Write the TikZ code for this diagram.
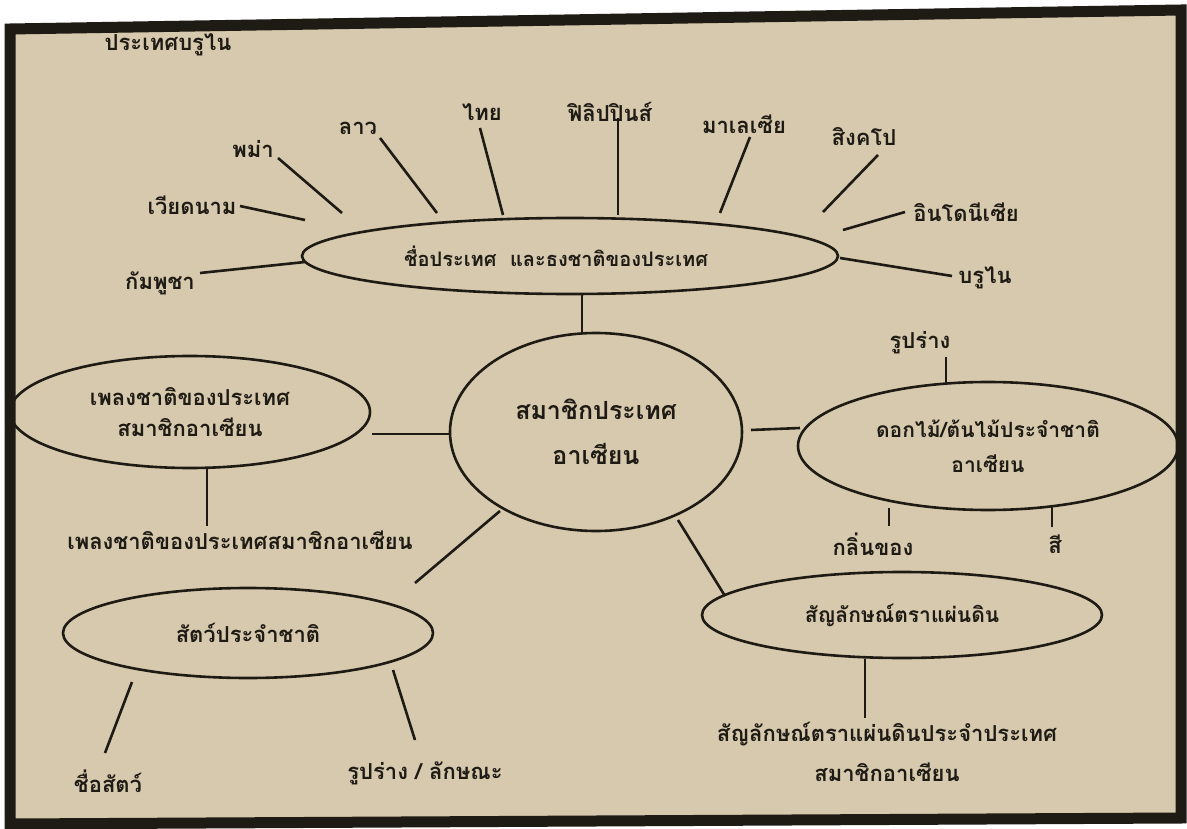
\documentclass[tikz,border=0pt]{standalone}
\usepackage{fontspec}
\newfontfamily\thai[Script=Thai]{Loma}
\usetikzlibrary{shapes.geometric}
\definecolor{paper}{HTML}{D6C9AD}
\definecolor{ink}{HTML}{1E1A14}
\begin{document}
\begin{tikzpicture}[x=1pt,y=-1pt,
  oval/.style={ellipse, draw=ink, line width=2.6pt, inner sep=0pt, align=center,
    font=\thai\bfseries\fontsize{22}{32}\selectfont, text=ink},
  lbl/.style={inner sep=0pt, align=center, font=\thai\bfseries\fontsize{22}{40}\selectfont, text=ink},
  link/.style={draw=ink, line width=2.6pt}]
\useasboundingbox (0,0) rectangle (1187,829);
\fill[white] (0,0) rectangle (1187,829);
% paper and frame
\fill[paper] (10,29) -- (1181,10) -- (1181,818) -- (10,824) -- cycle;
\draw[ink, line width=11pt] (10,29) -- (1181,10) -- (1181,818) -- (10,824) -- cycle;

% main ellipses
\node[oval, minimum width=536, minimum height=76, font=\thai\bfseries\fontsize{20}{30}\selectfont] (flag) at (570,256) {ชื่อประเทศ \ และธงชาติของประเทศ\hspace*{28pt}};
\node[oval, minimum width=292, minimum height=198, font=\thai\bfseries\fontsize{25}{45}\selectfont] (main) at (596,432) {สมาชิกประเทศ\\อาเซียน};
\node[oval, minimum width=360, minimum height=112, font=\thai\bfseries\fontsize{22}{31}\selectfont] (song) at (190,412) {เพลงชาติของประเทศ\\สมาชิกอาเซียน};
\node[oval, minimum width=380, minimum height=128, font=\thai\bfseries\fontsize{21}{35}\selectfont] (flower) at (988,446) {ดอกไม้/ต้นไม้ประจำชาติ\\อาเซียน};
\node[oval, minimum width=370, minimum height=90] (animal) at (248,633) {สัตว์ประจำชาติ};
\node[oval, minimum width=400, minimum height=86, font=\thai\bfseries\fontsize{21}{30}\selectfont] (emblem) at (902,615) {สัญลักษณ์ตราแผ่นดิน};

% hub connectors
\coordinate (f1) at (582,294); \coordinate (m1) at (582,333);
\draw[link] (f1) -- (m1);
\coordinate (s1) at (372,434); \coordinate (m2) at (451,434);
\draw[link] (s1) -- (m2);
\coordinate (m3) at (751,430); \coordinate (fl1) at (800,428);
\draw[link] (m3) -- (fl1);
\coordinate (m4) at (500,511); \coordinate (a1) at (415,583);
\draw[link] (m4) -- (a1);
\coordinate (m5) at (678,520); \coordinate (e1) at (725,596);
\draw[link] (m5) -- (e1);

% top labels
\node[lbl] (brunei0) at (168,45) {ประเทศบรูไน};
\node[lbl] (vn) at (192,205) {เวียดนาม};
\node[lbl] (mm) at (253,149) {พม่า};
\node[lbl] (la) at (358,128) {ลาว};
\node[lbl] (th) at (482,112) {ไทย};
\node[lbl] (ph) at (610,112) {ฟิลิปปินส์};
\node[lbl] (my) at (744,124) {มาเลเซีย};
\node[lbl] (sg) at (864,137) {สิงคโป};
\node[lbl] (id) at (966,212) {อินโดนีเซีย};
\node[lbl] (bn) at (985,278) {บรูไน};
\node[lbl] (kh) at (160,283) {กัมพูชา};

\coordinate (vn1) at (240,206); \coordinate (vn2) at (305,220);
\draw[link] (vn1) -- (vn2);
\coordinate (mm1) at (278,158); \coordinate (mm2) at (342,213);
\draw[link] (mm1) -- (mm2);
\coordinate (la1) at (380,138); \coordinate (la2) at (437,213);
\draw[link] (la1) -- (la2);
\coordinate (th1) at (480,128); \coordinate (th2) at (503,215);
\draw[link] (th1) -- (th2);
\coordinate (ph1) at (618,118); \coordinate (ph2) at (618,215);
\draw[link] (ph1) -- (ph2);
\coordinate (my1) at (750,137); \coordinate (my2) at (720,213);
\draw[link] (my1) -- (my2);
\coordinate (sg1) at (878,155); \coordinate (sg2) at (823,212);
\draw[link] (sg1) -- (sg2);
\coordinate (id1) at (905,212); \coordinate (id2) at (843,230);
\draw[link] (id1) -- (id2);
\coordinate (bn1) at (840,258); \coordinate (bn2) at (952,276);
\draw[link] (bn1) -- (bn2);
\coordinate (kh1) at (200,273); \coordinate (kh2) at (305,262);
\draw[link] (kh1) -- (kh2);

% song
\node[lbl] (songl) at (240,540) {เพลงชาติของประเทศสมาชิกอาเซียน};
\coordinate (so1) at (207,468); \coordinate (so2) at (207,526);
\draw[link] (so1) -- (so2);

% flower
\node[lbl] (shape) at (920,343) {รูปร่าง};
\node[lbl] (smell) at (873,544) {กลิ่นของ};
\node[lbl] (colour) at (1055,544) {สี};
\coordinate (sh1) at (946,357); \coordinate (sh2) at (946,383);
\draw[link] (sh1) -- (sh2);
\coordinate (sm1) at (889,508); \coordinate (sm2) at (889,526);
\draw[link] (sm1) -- (sm2);
\coordinate (co1) at (1052,507); \coordinate (co2) at (1052,527);
\draw[link] (co1) -- (co2);

% animal
\node[lbl] (aname) at (108,781) {ชื่อสัตว์};
\node[lbl] (aform) at (425,773) {รูปร่าง / ลักษณะ};
\coordinate (an1) at (132,682); \coordinate (an2) at (105,753);
\draw[link] (an1) -- (an2);
\coordinate (af1) at (393,670); \coordinate (af2) at (415,740);
\draw[link] (af1) -- (af2);

% emblem
\node[lbl] (embl) at (887,752) {สัญลักษณ์ตราแผ่นดินประจำประเทศ\\สมาชิกอาเซียน};
\coordinate (em1) at (865,659); \coordinate (em2) at (865,718);
\draw[link] (em1) -- (em2);
\end{tikzpicture}
\end{document}
